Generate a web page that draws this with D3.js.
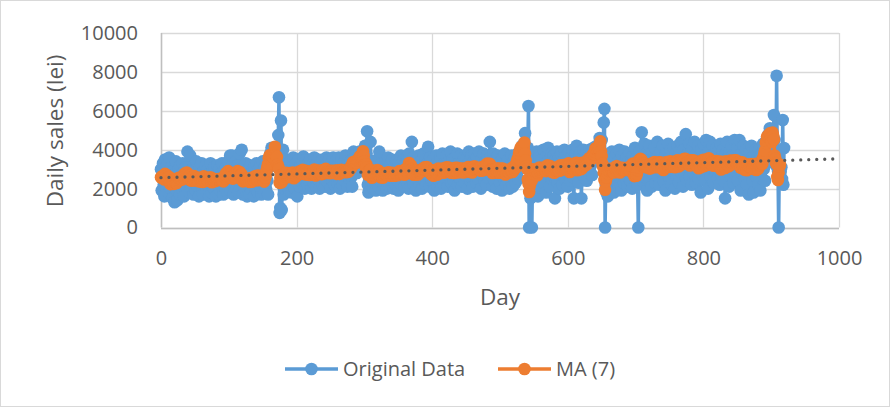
<!DOCTYPE html>
<html>
<head>
<meta charset="utf-8">
<script src="https://cdn.jsdelivr.net/npm/d3@7"></script>
<style>
  body { margin: 0; background: #fff; }
  text { font-family: "Open Sans", "Noto Sans", sans-serif; fill: #595959; }
</style>
</head>
<body>
<svg id="chart" width="890" height="407"></svg>
<script>
// Daily sales (lei), one value per day starting at day 0
const dailySales = [
  3000, 1900, 2600, 3300, 2200, 1600, 3500, 2800, 2000, 3200,
  2400, 1800, 3600, 2600, 2000, 3100, 2500, 1500, 2900, 2300,
  1300, 2800, 3400, 1900, 1400, 2600, 3000, 2200, 1700, 3200,
  2500, 2000, 3300, 2800, 1600, 2400, 3100, 2100, 2700, 3900,
  2900, 2300, 1800, 3700, 2500, 2000, 3000, 2600, 1700, 3200,
  2400, 1900, 3400, 2700, 2100, 2800, 1600, 3100, 2300, 2600,
  3300, 2000, 1700, 2900, 2500, 2200, 3200, 1900, 2700, 3000,
  2100, 1600, 2800, 3300, 2400, 1800, 2900, 2600, 2000, 3100,
  2300, 1600, 2700, 3200, 2200, 1700, 3000, 2500, 1900, 2800,
  3300, 2100, 1700, 2900, 2400, 2000, 3100, 2700, 1800, 3400,
  2600, 2200, 3700, 1900, 2800, 3700, 2300, 1700, 3000, 2500,
  3400, 2000, 2700, 3200, 1800, 2500, 3800, 2100, 2900, 4000,
  2400, 1700, 3100, 2600, 2000, 3300, 2300, 1600, 2800, 3000,
  2200, 1700, 3200, 2500, 1900, 2900, 2600, 1600, 3100, 2400,
  2000, 3300, 2700, 1800, 3000, 2500, 2100, 3200, 1700, 2800,
  3400, 2300, 1800, 3100, 2600, 2000, 2900, 2400, 1700, 3200,
  3200, 3800, 3400, 4100, 3500, 3700, 4000, 3600, 3800, 3300,
  3800, 3600, 3100, 4750, 6700, 750, 1000, 5500, 900, 2200,
  4000, 1700, 2600, 2000, 2900, 3500, 2200, 2700, 3200, 1900,
  2800, 3400, 2300, 1800, 3100, 3600, 2500, 2000, 2900, 3300,
  2400, 1600, 3000, 3500, 2700, 2100, 3200, 2800, 2300, 3400,
  3650, 2500, 2000, 3100, 3500, 2600, 2200, 3300, 2900, 2400,
  3500, 2700, 2000, 3200, 2800, 2300, 3600, 3000, 2500, 2100,
  3300, 2900, 3500, 2400, 2000, 3100, 3400, 2700, 2200, 3500,
  3000, 2500, 2100, 3200, 3600, 2800, 2300, 3100, 3500, 2600,
  2000, 3300, 2900, 2400, 3600, 3100, 2200, 2800, 3400, 2700,
  2300, 3200, 3600, 2500, 2000, 3000, 3500, 2800, 2200, 3300,
  2900, 2400, 3700, 3100, 2600, 2100, 3400, 3000, 2500, 3200,
  3400, 2600, 2100, 3300, 3900, 2900, 3600, 3100, 3800, 2800,
  3500, 3100, 3300, 3900, 3600, 3200, 3400, 3800, 3700, 3900,
  3600, 4200, 3300, 3800, 4950, 2200, 1800, 2500, 3000, 4400,
  2800, 2300, 3400, 2000, 2700, 3200, 2400, 1900, 3000, 3500,
  2600, 2100, 3900, 2900, 2400, 3300, 2700, 1900, 3100, 2500,
  2200, 3400, 2800, 2000, 3000, 3600, 2500, 2100, 3200, 2700,
  2300, 3500, 2900, 2000, 3100, 2600, 2200, 3400, 3000, 2400,
  1900, 3300, 2800, 2500, 3700, 2200, 3000, 2600, 3500, 2100,
  2900, 3300, 2400, 3600, 2700, 2000, 3800, 3200, 2600, 3100,
  4400, 2500, 3600, 2200, 3000, 3400, 1900, 2800, 3300, 2400,
  3700, 2100, 2900, 3400, 2600, 2000, 3200, 3800, 2500, 3000,
  3500, 2200, 2800, 3300, 4150, 2700, 2100, 3600, 3100, 2400,
  3000, 3500, 2300, 1900, 3200, 2800, 3700, 2600, 2100, 3400,
  2900, 2400, 3600, 2000, 3100, 3800, 2700, 2200, 3300, 3000,
  2500, 3700, 2900, 2100, 3400, 3100, 2600, 3900, 2300, 2800,
  3500, 3200, 2400, 1900, 3600, 3000, 2700, 3800, 2200, 3300,
  2900, 2500, 3700, 3100, 2100, 3400, 2800, 3600, 2300, 3000,
  3500, 2600, 2000, 3300, 3900, 2800, 2400, 3200, 3700, 2500,
  2100, 3400, 3000, 3800, 2700, 2300, 3600, 3100, 2500, 3900,
  2800, 3300, 2000, 3500, 3100, 2600, 3800, 2400, 3000, 3400,
  2200, 3700, 2900, 3200, 2500, 4400, 3600, 2700, 3300, 2100,
  3800, 3000, 2400, 3500, 2800, 2000, 3300, 3700, 2600, 3100,
  2300, 3400, 2900, 1900, 3600, 3100, 2500, 3800, 2700, 2200,
  3300, 3000, 2400, 3500, 2000, 3200, 2800, 3700, 2600, 2100,
  3400, 2900, 3600, 2300, 3100, 2700, 3800, 2500, 3300, 3900,
  3600, 4000, 3500, 4200, 4100, 4300, 4000, 4850, 3600, 3900,
  3900, 4100, 6250, 0, 2400, 1500, 3000, 0, 2600, 3300,
  2200, 3600, 2900, 2400, 3900, 2600, 1600, 3300, 3700, 2500,
  3100, 2000, 3500, 2800, 4000, 2300, 3200, 3600, 1800, 2900,
  3400, 4100, 2700, 2100, 3300, 3000, 3800, 2500, 3200, 3700,
  2600, 1500, 3500, 3000, 3900, 2300, 2900, 3600, 2000, 3200,
  3800, 2700, 2200, 3400, 3100, 4000, 2500, 3000, 3700, 2800,
  2100, 3300, 3900, 2800, 2400, 3600, 3100, 4000, 2600, 1500,
  3500, 3000, 3800, 4200, 2700, 3300, 2300, 3700, 3200, 3900,
  1500, 2900, 3600, 4000, 2600, 3400, 3000, 3800, 2400, 3300,
  3600, 2800, 4000, 3100, 3500, 3900, 2700, 3700, 4100, 3400,
  3400, 3900, 3600, 4200, 3800, 4100, 4300, 4600, 3600, 3900,
  4500, 3700, 3800, 5400, 6100, 0, 2200, 1800, 2600, 1600,
  2800, 2600, 3000, 3500, 2100, 3900, 2700, 3300, 1800, 3600,
  3100, 2400, 3800, 2900, 2200, 3400, 4000, 2600, 3200, 1900,
  3700, 2800, 3300, 2300, 3900, 3000, 2500, 3600, 2100, 3400,
  2900, 3800, 2400, 3200, 3500, 2000, 3700, 3000, 2600, 4100,
  3300, 2700, 3600, 2200, 0, 3400, 3900, 2800, 3500, 4900,
  3100, 2400, 3700, 4300, 2600, 3200, 3800, 1900, 3400, 2900,
  4200, 2500, 3600, 3100, 2100, 3900, 3300, 2700, 4100, 2300,
  3500, 3000, 4400, 2600, 3700, 2200, 3200, 3900, 2800, 3400,
  4200, 2400, 3600, 3000, 1900, 3800, 3300, 2700, 4300, 3100,
  2500, 3700, 4000, 2200, 3400, 2900, 4100, 3500, 2000, 3800,
  3200, 2600, 4200, 3600, 2300, 3900, 3000, 4400, 2800, 3500,
  2100, 4000, 3300, 2700, 4800, 3600, 2400, 3800, 3100, 4300,
  2600, 3500, 3900, 2200, 4100, 3200, 2800, 4400, 3600, 2300,
  3800, 3000, 4200, 2500, 3600, 3300, 1800, 4000, 3400, 2700,
  4300, 3100, 2400, 3700, 4500, 2900, 3500, 2000, 3900, 3200,
  4400, 2600, 3600, 3000, 4200, 2300, 3800, 3400, 2800, 4100,
  3300, 2500, 3900, 3600, 2200, 4300, 3100, 2700, 3700, 4000,
  2400, 3500, 1500, 3800, 3200, 4400, 2800, 3600, 2100, 3900,
  3300, 2600, 4200, 3700, 2300, 3500, 4500, 3000, 2700, 3800,
  4100, 2400, 3600, 4500, 3100, 1900, 3800, 3400, 2700, 4200,
  3000, 2500, 3700, 4000, 2200, 3500, 3200, 1700, 3900, 3300,
  2800, 4200, 3600, 2400, 1800, 3700, 3100, 4000, 2600, 3500,
  3400, 2200, 4000, 3100, 1900, 3600, 3800, 2500, 4300, 3000,
  3500, 2400, 3900, 3300, 4600, 4200, 4800, 4500, 5100, 4700,
  4900, 4400, 4700, 4300, 5780, 4500, 3900, 3200, 7800, 3600,
  2900, 0, 3300, 2400, 2870, 3100, 2500, 5530, 2200, 4090
];

const seriesNames = ["Original Data", "MA (7)"];
const seriesColors = ["#5B9BD5", "#ED7D31"];
const maWindow = 7;
const xTicks = [0, 200, 400, 600, 800, 1000];
const yTicks = [0, 2000, 4000, 6000, 8000, 10000];
const xTitle = "Day";
const yTitle = "Daily sales (lei)";

const original = dailySales.map((v, i) => ({ day: i, value: v }));

// 7-day moving average over the window starting at each day
const movingAvg = [];
for (let i = 0; i + maWindow <= dailySales.length; i++) {
  movingAvg.push({ day: i, value: d3.mean(dailySales.slice(i, i + maWindow)) });
}

// least-squares linear trend of the original data
const mx = d3.mean(original, d => d.day);
const my = d3.mean(original, d => d.value);
const slope = d3.sum(original, d => (d.day - mx) * (d.value - my)) /
              d3.sum(original, d => (d.day - mx) ** 2);
const intercept = my - slope * mx;
const trend = [0, 1000].map(d => ({ day: d, value: intercept + slope * d }));

const svg = d3.select("#chart");
svg.append("rect").attr("x", 0.5).attr("y", 0.5).attr("width", 889).attr("height", 406)
  .attr("fill", "#fff").attr("stroke", "#D9D9D9");

const x = d3.scaleLinear().domain([0, 1000]).range([161, 839]);
const y = d3.scaleLinear().domain([0, 10000]).range([227.5, 33]);

// grid
const grid = svg.append("g");
grid.selectAll(".h").data(yTicks).join("line")
  .attr("x1", x(0)).attr("x2", x(1000))
  .attr("y1", d => Math.round(y(d)) + 0.5).attr("y2", d => Math.round(y(d)) + 0.5)
  .attr("stroke", "#D9D9D9").attr("stroke-width", 1.3);
grid.selectAll(".v").data(xTicks).join("line")
  .attr("y1", y(10000)).attr("y2", y(0))
  .attr("x1", d => Math.round(x(d)) + 0.5).attr("x2", d => Math.round(x(d)) + 0.5)
  .attr("stroke", "#D9D9D9").attr("stroke-width", 1.3);
// axis lines
svg.append("line").attr("x1", x(0)).attr("x2", x(1000))
  .attr("y1", Math.round(y(0)) + 0.5).attr("y2", Math.round(y(0)) + 0.5)
  .attr("stroke", "#BFBFBF").attr("stroke-width", 1.5);
svg.append("line").attr("x1", Math.round(x(0)) + 0.5).attr("x2", Math.round(x(0)) + 0.5)
  .attr("y1", y(10000)).attr("y2", y(0))
  .attr("stroke", "#BFBFBF").attr("stroke-width", 1.5);

// tick labels through d3 axes
const yAxis = svg.append("g").attr("transform", `translate(${x(0)},0)`)
  .call(d3.axisLeft(y).tickValues(yTicks).tickSize(0).tickPadding(23).tickFormat(d3.format("d")));
const xAxis = svg.append("g").attr("transform", `translate(0,${y(0)})`)
  .call(d3.axisBottom(x).tickValues(xTicks).tickSize(0).tickPadding(23).tickFormat(d3.format("d")));
[yAxis, xAxis].forEach(g => {
  g.select(".domain").remove();
  g.selectAll("text").style("font-size", "20px").attr("fill", "#595959");
});

// axis titles
svg.append("text").attr("x", 500).attr("y", 297).attr("dy", "0.35em")
  .attr("text-anchor", "middle").style("font-size", "22.5px").text(xTitle);
svg.append("text").attr("transform", "translate(55,131) rotate(-90)").attr("dy", "0.35em")
  .attr("text-anchor", "middle").style("font-size", "22.5px").text(yTitle);

const line = d3.line().x(d => x(d.day)).y(d => y(d.value));
const markerR = 6.3;
const lineW = 3.5;

function drawSeries(data, color) {
  const g = svg.append("g");
  g.append("path").datum(data).attr("d", line)
    .attr("fill", "none").attr("stroke", color).attr("stroke-width", lineW)
    .attr("stroke-linejoin", "round");
  g.selectAll("circle").data(data).join("circle")
    .attr("cx", d => x(d.day)).attr("cy", d => y(d.value)).attr("r", markerR)
    .attr("fill", color);
}
drawSeries(original, seriesColors[0]);
drawSeries(movingAvg, seriesColors[1]);

// dotted linear trendline
svg.append("path").datum(trend).attr("d", line)
  .attr("fill", "none").attr("stroke", "#595959").attr("stroke-width", 3.3)
  .attr("stroke-linecap", "round").attr("stroke-dasharray", "0 8");

// legend
const legendItems = [
  { name: seriesNames[0], color: seriesColors[0], x0: 285 },
  { name: seriesNames[1], color: seriesColors[1], x0: 498 }
];
const ly = 369;
const lg = svg.append("g");
legendItems.forEach(it => {
  lg.append("line").attr("x1", it.x0).attr("x2", it.x0 + 53).attr("y1", ly).attr("y2", ly)
    .attr("stroke", it.color).attr("stroke-width", lineW);
  lg.append("circle").attr("cx", it.x0 + 26.5).attr("cy", ly).attr("r", markerR).attr("fill", it.color);
  lg.append("text").attr("x", it.x0 + 58).attr("y", ly).attr("dy", "0.35em")
    .style("font-size", "20px").text(it.name);
});
</script>
</body>
</html>
